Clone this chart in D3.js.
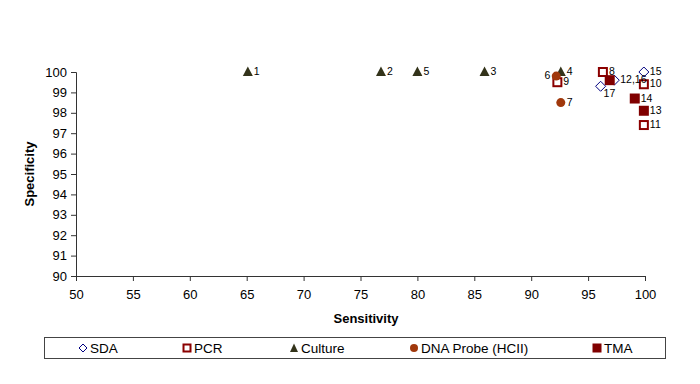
<!DOCTYPE html>
<html><head><meta charset="utf-8">
<script src="https://cdn.jsdelivr.net/npm/d3@7"></script>
<style>body{margin:0;background:#fff}svg{display:block;font-family:Arial,"Liberation Sans",sans-serif}</style>
</head><body><svg id="c" width="700" height="384"></svg>
<script>
// ---- data ----
const seriesNames = ["SDA", "PCR", "Culture", "DNA Probe (HCII)", "TMA"];
const sdaPoints = [{id:"15", x:99.9, y:100}, {id:"12,16", x:97.3, y:99.6}, {id:"17", x:96.1, y:99.3}];
const pcrPoints = [{id:"8", x:96.3, y:100}, {id:"9", x:92.3, y:99.5}, {id:"10", x:99.9, y:99.4}, {id:"11", x:99.9, y:97.4}];
const culturePoints = [{id:"1", x:65.1, y:100}, {id:"2", x:76.8, y:100}, {id:"5", x:80.0, y:100}, {id:"3", x:85.9, y:100}, {id:"4", x:92.6, y:100}];
const dnaPoints = [{id:"6", x:92.2, y:99.8}, {id:"7", x:92.6, y:98.5}];
const tmaPoints = [{id:"", x:96.9, y:99.6}, {id:"13", x:99.9, y:98.1}, {id:"14", x:99.1, y:98.7}];
const xTicks = [50, 55, 60, 65, 70, 75, 80, 85, 90, 95, 100];
const yTicks = [90, 91, 92, 93, 94, 95, 96, 97, 98, 99, 100];
// label placement (style): default right; exceptions
const labelLeft = ["6"];
const labelBelow = ["17"];

// ---- drawing ----
const svg = d3.select("#c");
const x = d3.scaleLinear().domain([50, 100]).range([76, 645]);
const y = d3.scaleLinear().domain([90, 100]).range([276, 72]);

const axisColor = "#333";
const gx = svg.append("g").attr("transform", `translate(0,${y(90)})`)
  .call(d3.axisBottom(x).tickValues(xTicks).tickSize(5).tickPadding(9));
const gy = svg.append("g").attr("transform", `translate(${x(50)},0)`)
  .call(d3.axisLeft(y).tickValues(yTicks).tickSize(5).tickPadding(4));
[gx, gy].forEach(g => {
  g.select(".domain").attr("stroke", axisColor);
  g.selectAll(".tick line").attr("stroke", axisColor);
  g.selectAll(".tick text").attr("fill", "#000").style("font-size", "13px").style("font-family", "Arial, 'Liberation Sans', sans-serif");
});

svg.append("text").attr("x", 366).attr("y", 323).attr("text-anchor", "middle")
  .style("font-size", "13px").style("font-weight", "bold").text("Sensitivity");
svg.append("text").attr("transform", "translate(34,174) rotate(-90)").attr("text-anchor", "middle")
  .style("font-size", "13px").style("font-weight", "bold").text("Specificity");

const shapes = {
  diamond: (g, cx, cy) => g.append("path").attr("d", `M${cx},${cy-5}L${cx+5},${cy}L${cx},${cy+5}L${cx-5},${cy}Z`)
      .attr("fill", "#fff").attr("stroke", "#000080").attr("stroke-width", 1),
  squareOpen: (g, cx, cy) => g.append("rect").attr("x", cx-4).attr("y", cy-4).attr("width", 8).attr("height", 8)
      .attr("fill", "#fff").attr("stroke", "#8b0000").attr("stroke-width", 2),
  triangle: (g, cx, cy) => g.append("path").attr("d", `M${cx},${cy-5.5}L${cx+5},${cy+4}L${cx-5},${cy+4}Z`)
      .attr("fill", "#33331a"),
  circle: (g, cx, cy) => g.append("circle").attr("cx", cx).attr("cy", cy).attr("r", 4.5).attr("fill", "#a0380c"),
  squareFill: (g, cx, cy) => g.append("rect").attr("x", cx-5).attr("y", cy-5).attr("width", 10).attr("height", 10)
      .attr("fill", "#800000")
};

const series = [
  {data: sdaPoints, shape: "diamond"},
  {data: pcrPoints, shape: "squareOpen"},
  {data: culturePoints, shape: "triangle"},
  {data: dnaPoints, shape: "circle"},
  {data: tmaPoints, shape: "squareFill"}
];

const pts = svg.append("g"), labels = svg.append("g");
series.forEach(s => {
  s.data.forEach(d => {
    const cx = x(d.x), cy = y(d.y);
    shapes[s.shape](pts, cx, cy);
    if (!d.id) return;
    const t = labels.append("text").style("font-size", "10.5px").attr("fill", "#000").text(d.id);
    if (labelLeft.includes(d.id)) t.attr("x", cx - 6).attr("y", cy + 3).attr("text-anchor", "end");
    else if (labelBelow.includes(d.id)) t.attr("x", cx + 3).attr("y", cy + 11);
    else t.attr("x", cx + 6).attr("y", cy + 3);
  });
});

// legend
const lg = svg.append("g");
lg.append("rect").attr("x", 44.5).attr("y", 337.5).attr("width", 621).attr("height", 21)
  .attr("fill", "#fff").attr("stroke", "#444").attr("stroke-width", 1);
const legendX = [83, 187, 294, 414, 597];
const legendShapes = ["diamond", "squareOpen", "triangle", "circle", "squareFill"];
seriesNames.forEach((n, i) => {
  const cx = legendX[i], cy = 348;
  if (legendShapes[i] === "diamond") lg.append("path").attr("d", `M${cx},${cy-4}L${cx+4},${cy}L${cx},${cy+4}L${cx-4},${cy}Z`).attr("fill", "#fff").attr("stroke", "#000080");
  else if (legendShapes[i] === "squareOpen") lg.append("rect").attr("x", cx-3.5).attr("y", cy-3.5).attr("width", 7).attr("height", 7).attr("fill", "#fff").attr("stroke", "#8b0000").attr("stroke-width", 2);
  else if (legendShapes[i] === "triangle") lg.append("path").attr("d", `M${cx},${cy-4.5}L${cx+4},${cy+4}L${cx-4},${cy+4}Z`).attr("fill", "#33331a");
  else if (legendShapes[i] === "circle") lg.append("circle").attr("cx", cx).attr("cy", cy).attr("r", 4).attr("fill", "#a0380c");
  else lg.append("rect").attr("x", cx-4.5).attr("y", cy-4.5).attr("width", 9).attr("height", 9).attr("fill", "#800000");
  lg.append("text").attr("x", cx + 7).attr("y", cy + 5).style("font-size", "13.5px").text(n);
});
</script></body></html>
